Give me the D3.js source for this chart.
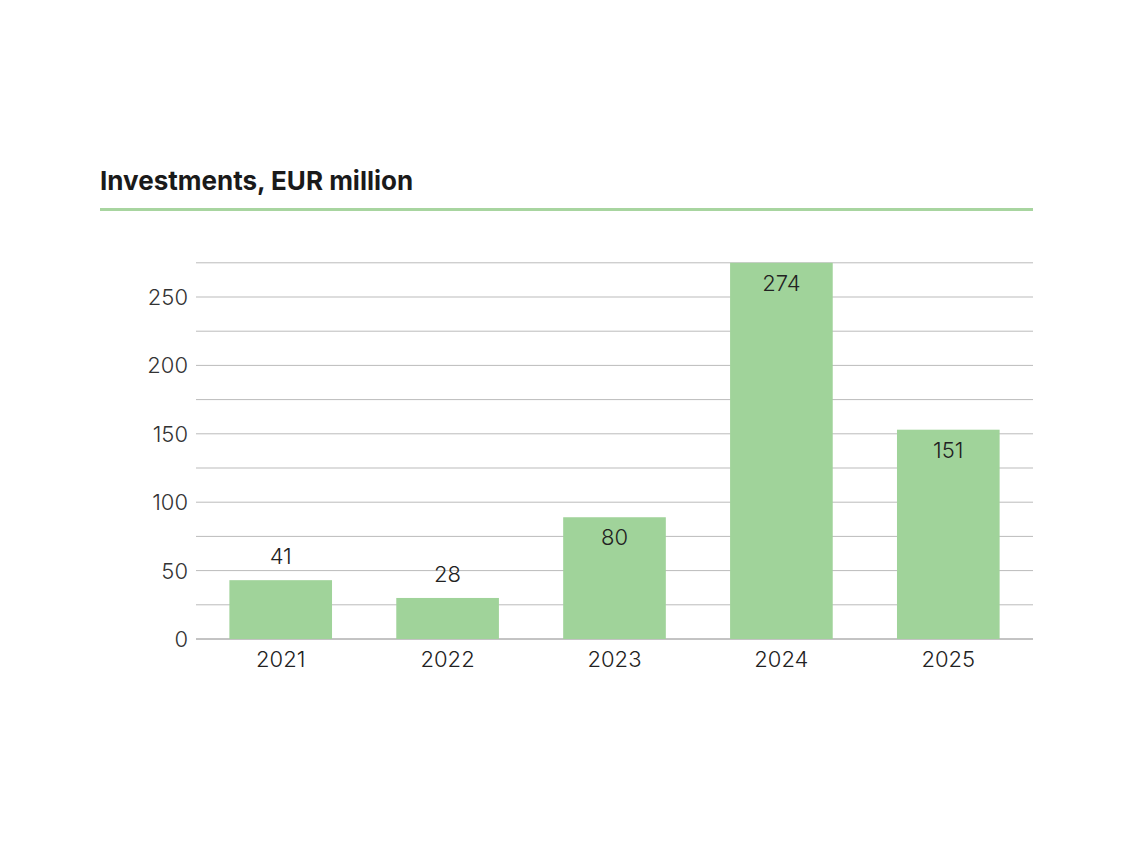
<!DOCTYPE html>
<html><head><meta charset="utf-8">
<script src="https://cdn.jsdelivr.net/npm/d3@7"></script>
<style>body{margin:0;background:#fff}svg{display:block}</style>
</head><body>
<svg id="chart" width="1134" height="850"></svg>
<script>
const years = ["2021", "2022", "2023", "2024", "2025"]
const barValues = [43, 30, 89, 275, 153]   // bar heights as drawn
const labelValues = [41, 28, 80, 274, 151] // printed values
const yTicks = [0, 50, 100, 150, 200, 250]
const gridTicks = [25, 75, 125, 175, 225, 275]

const svg = d3.select("#chart")
const font = "Inter, 'Noto Sans', sans-serif"

// Title and rule
svg.append("text").attr("x", 100).attr("y", 190)
  .attr("font-family", font).attr("font-weight", 700).attr("font-size", 26)
  .attr("fill", "#1a1a1a").text("Investments, EUR million")
svg.append("rect").attr("x", 100).attr("y", 208).attr("width", 933).attr("height", 3).attr("fill", "#a8d5a0")

const x = d3.scaleBand().domain(years).range([196, 1033]).paddingInner(0.385).paddingOuter(0.2)
const y = d3.scaleLinear().domain([0, 250]).range([639, 297])

// Gridlines
svg.append("g").selectAll("line").data(yTicks.concat(gridTicks)).join("line")
  .attr("x1", 196).attr("x2", 1033)
  .attr("y1", d => y(d)).attr("y2", d => y(d))
  .attr("stroke", d => d === 0 ? "#888" : "#bbb").attr("stroke-width", 1)

// Y labels
svg.append("g").selectAll("text").data(yTicks).join("text")
  .attr("x", 188).attr("y", d => y(d) + 8).attr("text-anchor", "end")
  .attr("font-family", font).attr("font-weight", 300).attr("font-size", 22).attr("fill", "#333")
  .text(d => d)

// Bars
svg.append("g").selectAll("rect").data(years).join("rect")
  .attr("x", d => x(d)).attr("width", x.bandwidth())
  .attr("y", (d, i) => y(barValues[i])).attr("height", (d, i) => y(0) - y(barValues[i]))
  .attr("fill", "#a0d39a")

// Value labels
svg.append("g").selectAll("text").data(years).join("text")
  .attr("x", d => x(d) + x.bandwidth() / 2)
  .attr("y", (d, i) => barValues[i] < 60 ? y(barValues[i]) - 16 : y(barValues[i]) + 28)
  .attr("text-anchor", "middle")
  .attr("font-family", font).attr("font-weight", 300).attr("font-size", 22).attr("fill", "#222")
  .text((d, i) => labelValues[i])

// X labels
svg.append("g").selectAll("text").data(years).join("text")
  .attr("x", d => x(d) + x.bandwidth() / 2).attr("y", 667).attr("text-anchor", "middle")
  .attr("font-family", font).attr("font-weight", 300).attr("font-size", 22).attr("fill", "#222")
  .text(d => d)
</script>
</body></html>
